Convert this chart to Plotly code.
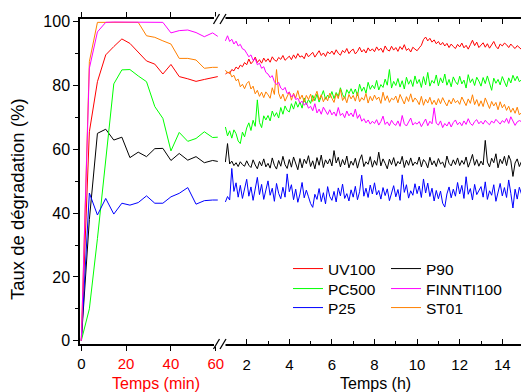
import plotly.graph_objects as go

# ---------------- data ----------------
t_min = [0, 3.6, 7.2, 10.9, 14.5, 18.1, 21.7, 25.4, 29.1, 32.8, 36.4, 40.0, 43.7,
         47.5, 51.2, 54.9, 58.6, 60.9]

uv100_min = [0, 65.5, 81.2, 89.6, 92.2, 94.6, 93.2, 90.6, 87.7, 86.7, 83.6, 86.6,
             82.8, 82.1, 81.3, 81.9, 82.4, 82.8]
p90_min = [0, 38.0, 65.0, 66.3, 62.9, 63.8, 57.4, 59.1, 57.7, 60.2, 60.3, 56.5,
           58.7, 56.6, 57.7, 55.8, 56.5, 56.2]
pc500_min = [0, 10.0, 32.0, 56.0, 80.5, 84.9, 85.0, 83.0, 81.2, 73.4, 69.7, 59.5,
             65.3, 62.5, 63.4, 65.5, 63.7, 63.8]
finnti100_min = [0, 85.4, 96.8, 99.8, 99.9, 99.9, 99.8, 99.9, 99.9, 99.9, 99.8, 96.5,
                 97.2, 97.4, 96.6, 95.3, 96.5, 95.4]
p25_min = [0, 46.3, 39.4, 44.6, 39.7, 43.1, 42.5, 43.3, 45.4, 43.1, 43.1, 45.1,
           46.2, 48.0, 42.8, 43.9, 44.1, 44.1]
st01_min = [0, 87.5, 99.8, 99.8, 99.7, 99.6, 99.8, 99.8, 95.6, 95.1, 94.0, 93.0,
            88.5, 88.5, 88.0, 85.4, 85.7, 85.7]

t_h = [1.0, 1.1, 1.2, 1.3, 1.4, 1.5, 1.6, 1.7, 1.8, 1.9,
       2.0, 2.1, 2.2, 2.3, 2.4, 2.5, 2.6, 2.7, 2.8, 2.9,
       3.0, 3.1, 3.2, 3.3, 3.4, 3.5, 3.6, 3.7, 3.8, 3.9,
       4.0, 4.1, 4.2, 4.3, 4.4, 4.5, 4.6, 4.7, 4.8, 4.9,
       5.0, 5.1, 5.2, 5.3, 5.4, 5.5, 5.6, 5.7, 5.8, 5.9,
       6.0, 6.1, 6.2, 6.3, 6.4, 6.5, 6.6, 6.7, 6.8, 6.9,
       7.0, 7.1, 7.2, 7.3, 7.4, 7.5, 7.6, 7.7, 7.8, 7.9,
       8.0, 8.1, 8.2, 8.3, 8.4, 8.5, 8.6, 8.7, 8.8, 8.9,
       9.0, 9.1, 9.2, 9.3, 9.4, 9.5, 9.6, 9.7, 9.8, 9.9,
       10.0, 10.1, 10.2, 10.3, 10.4, 10.5, 10.6, 10.7, 10.8, 10.9,
       11.0, 11.1, 11.2, 11.3, 11.4, 11.5, 11.6, 11.7, 11.8, 11.9,
       12.0, 12.1, 12.2, 12.3, 12.4, 12.5, 12.6, 12.7, 12.8, 12.9,
       13.0, 13.1, 13.2, 13.3, 13.4, 13.5, 13.6, 13.7, 13.8, 13.9,
       14.0, 14.1, 14.2, 14.3, 14.4, 14.5, 14.6, 14.7, 14.8, 14.9]

uv100_h = [83.5, 84.2, 83.8, 85.0, 84.6, 85.8, 85.2, 86.4, 85.9, 87.2,
           86.5, 88.3, 86.8, 87.6, 88.9, 87.2, 88.1, 87.0, 88.6, 87.5,
           88.4, 87.3, 89.0, 88.0, 87.6, 88.8, 88.2, 89.4, 87.9, 88.7,
           89.2, 88.1, 89.6, 88.5, 90.0, 88.9, 89.3, 88.4, 90.2, 89.0,
           89.6, 90.4, 88.9, 89.8, 90.9, 89.4, 90.2, 89.1, 90.6, 89.9,
           90.8, 89.7, 91.2, 90.1, 89.5, 91.0, 90.3, 91.6, 90.0, 90.9,
           91.4, 89.9, 90.7, 92.0, 90.5, 91.3, 90.2, 91.8, 90.8, 91.5,
           90.6, 92.1, 91.0, 91.7, 90.4, 92.4, 91.2, 90.8, 92.3, 91.1,
           91.9, 90.7, 92.2, 91.3, 92.8, 91.0, 91.6, 90.5, 92.0, 91.4,
           90.9, 91.8, 92.6, 94.4, 95.2, 94.0, 94.8, 93.6, 94.3, 93.1,
           93.8, 92.7, 93.5, 92.4, 93.2, 91.9, 93.0, 92.2, 91.6, 92.9,
           92.1, 93.3, 91.8, 92.6, 91.4, 92.8, 94.2, 92.5, 93.6, 91.9,
           92.7, 93.4, 92.0, 93.1, 91.7, 92.9, 93.8, 92.3, 91.5, 93.0,
           92.4, 93.3, 92.8, 91.9, 93.0, 92.2, 91.6, 92.5, 91.8, 91.3]

p90_h = [56.0, 61.8, 55.4, 56.3, 54.9, 55.8, 54.6, 56.1, 55.2, 54.7,
         56.4, 55.0, 54.3, 56.7, 55.1, 53.9, 56.2, 54.8, 57.0, 54.5,
         55.6, 54.1, 57.3, 55.0, 53.8, 56.5, 54.7, 57.8, 55.2, 54.0,
         56.8, 54.4, 57.6, 55.3, 53.6, 57.1, 54.2, 56.9, 55.5, 58.0,
         54.6, 56.4, 53.9, 57.4, 55.0, 58.2, 54.3, 56.7, 55.4, 57.0,
         54.8, 59.6, 55.7, 57.5, 54.5, 56.8, 55.1, 57.9, 54.2, 56.3,
         55.0, 57.2, 54.1, 56.6, 58.3, 54.6, 56.1, 55.3, 57.7, 54.4,
         56.5, 55.0, 59.1, 54.8, 57.0, 55.6, 53.9, 56.9, 55.2, 57.4,
         54.7, 56.2, 55.4, 57.8, 54.3, 56.6, 55.0, 57.3, 54.9, 56.0,
         55.3, 57.6, 54.5, 56.8, 55.9, 54.2, 57.5, 55.1, 56.4, 54.6,
         57.1, 55.4, 56.0, 54.3, 57.9, 55.6, 54.8, 56.7, 55.2, 57.3,
         54.9, 56.5, 55.3, 57.6, 54.4, 56.2, 58.4, 55.0, 56.8, 54.7,
         56.3, 55.1, 62.8, 56.0, 54.5, 57.2, 55.8, 58.6, 54.2, 56.9,
         55.5, 57.8, 54.9, 58.1, 56.4, 51.5, 55.7, 57.0, 54.6, 56.2]

pc500_h = [67.0, 64.2, 65.8, 63.5, 66.1, 64.9, 62.6, 61.8, 65.4, 63.9,
           66.7, 68.3, 65.9, 69.1, 67.2, 75.5, 68.4, 66.8, 70.5, 69.2,
           70.6, 68.9, 72.0, 70.3, 71.5, 69.8, 73.1, 71.0, 73.6, 72.2,
           71.7, 74.3, 72.6, 75.0, 73.2, 74.8, 72.9, 76.1, 74.0, 75.6,
           74.4, 76.9, 75.2, 77.3, 74.8, 76.5, 78.4, 75.7, 77.0, 76.2,
           78.1, 75.9, 77.8, 76.6, 79.3, 77.2, 76.0, 78.7, 77.5, 79.0,
           77.3, 78.9, 76.8, 80.4, 78.2, 79.5, 77.6, 81.0, 78.8, 80.1,
           79.0, 81.6, 78.6, 80.3, 79.4, 82.0, 80.1, 85.0, 79.2, 81.3,
           80.0, 82.2, 79.5, 81.5, 78.9, 82.6, 80.4, 81.8, 79.7, 83.0,
           80.6, 81.9, 79.4, 82.8, 80.2, 84.1, 79.8, 81.6, 80.7, 83.3,
           79.9, 82.4, 80.8, 83.6, 80.1, 81.9, 79.6, 82.7, 81.2, 80.3,
           82.9, 80.5, 81.7, 79.2, 83.4, 80.9, 82.1, 80.0, 82.6, 81.4,
           79.8, 82.5, 80.6, 83.0, 81.1, 78.5, 82.3, 80.7, 81.9, 80.2,
           82.8, 81.0, 79.6, 82.4, 80.8, 83.2, 81.5, 82.9, 81.2, 81.8]

finnti100_h = [94.0, 95.6, 93.8, 94.5, 93.0, 93.9, 92.4, 92.9, 91.5, 91.2,
               90.1, 89.0, 89.6, 87.9, 88.4, 86.5, 87.0, 85.4, 85.9, 84.1,
               83.6, 82.5, 83.1, 81.2, 80.3, 81.0, 79.2, 78.6, 79.4, 77.5,
               77.9, 76.4, 77.2, 75.6, 76.0, 74.5, 75.1, 73.8, 74.6, 72.9,
               73.5, 72.1, 74.3, 71.4, 72.6, 71.0, 73.2, 71.8, 70.9, 72.4,
               70.8, 71.7, 70.4, 73.1, 70.6, 71.3, 69.9, 72.0, 70.5, 71.4,
               70.2, 72.6, 69.7, 70.9, 68.8, 69.6, 68.3, 69.2, 67.9, 68.8,
               68.1, 69.3, 67.6, 68.7, 70.4, 67.8, 68.6, 67.4, 69.1, 68.0,
               67.5, 68.9, 67.2, 70.6, 68.0, 67.3, 68.5, 69.8, 67.6, 68.4,
               67.9, 68.7, 67.1, 68.3, 69.5, 67.4, 68.8, 68.0, 73.0, 68.2,
               67.6, 68.9, 66.8, 68.1, 67.3, 68.6, 67.0, 68.4, 69.2, 67.7,
               68.5, 67.4, 68.9, 67.8, 69.6, 68.1, 67.5, 68.7, 69.3, 68.0,
               68.8, 67.9, 69.1, 68.3, 67.7, 68.9, 68.2, 69.4, 68.6, 67.9,
               69.0, 68.4, 69.7, 68.1, 70.2, 68.7, 67.5, 68.6, 69.0, 68.7]

p25_h = [43.5, 45.2, 44.1, 54.0, 46.8, 49.5, 45.0, 48.7, 44.6, 47.9,
         50.6, 45.3, 48.2, 44.0, 47.4, 51.2, 45.8, 49.0, 44.3, 46.9,
         50.1, 45.6, 47.8, 43.7, 49.3, 46.2, 44.5, 48.1, 45.0, 52.3,
         46.7, 48.9, 44.2, 47.5, 43.4, 46.0, 49.6, 44.8, 47.2, 45.1,
         43.0, 41.8, 45.9, 44.3, 47.7, 43.6, 46.4, 42.9, 48.3, 45.2,
         44.0, 46.8, 43.5, 47.9, 45.4, 49.1, 44.6, 46.1, 43.8, 47.3,
         45.0, 48.4, 44.2, 46.7, 51.9, 45.3, 47.8, 44.9, 48.8, 46.0,
         49.5, 45.7, 47.1, 44.4, 48.0, 45.5, 47.6, 43.9, 46.3, 48.6,
         45.1, 47.4, 44.0, 52.0, 46.5, 48.9, 44.7, 47.0, 45.6, 49.2,
         46.1, 48.5, 44.9, 50.7, 46.3, 49.4, 45.2, 47.8, 43.8, 47.1,
         44.5, 46.9, 43.1, 41.9, 46.0, 48.2, 44.8, 47.5, 45.3, 49.6,
         46.0, 48.7, 44.6, 51.4, 45.9, 47.7, 44.1, 49.0, 45.8, 47.2,
         48.3, 45.0, 49.8, 44.3, 47.0, 45.6, 48.9, 43.7, 46.5, 49.3,
         45.4, 48.0, 44.9, 50.4, 46.2, 41.6, 47.5, 44.4, 48.1, 46.0]

st01_h = [84.8, 83.9, 84.3, 82.7, 83.2, 81.5, 82.0, 79.6, 80.4, 79.0,
          80.6, 81.3, 78.9, 79.8, 77.4, 78.5, 76.6, 77.9, 76.2, 78.0,
          77.1, 76.0, 79.3, 77.2, 85.0, 77.6, 75.8, 77.3, 75.1, 76.4,
          78.0, 75.4, 77.6, 76.1, 78.4, 75.7, 77.0, 74.8, 76.9, 75.6,
          77.3, 75.0, 76.8, 78.2, 75.5, 77.1, 74.9, 76.4, 75.2, 77.6,
          76.0, 74.7, 77.4, 75.9, 78.8, 75.3, 76.5, 74.6, 77.2, 75.8,
          76.9, 75.1, 77.8, 74.9, 76.2, 75.4, 77.5, 74.5, 76.6, 75.2,
          77.0, 75.6, 76.4, 74.4, 77.9, 75.3, 76.8, 74.7, 76.0, 75.5,
          76.7, 74.6, 77.2, 75.8, 74.2, 76.5, 75.0, 77.4, 74.8, 76.1,
          75.3, 74.0, 76.6, 73.8, 75.7, 74.5, 76.3, 74.1, 75.4, 73.9,
          75.9, 74.3, 76.2, 74.8, 73.6, 75.5, 74.2, 76.0, 74.6, 75.3,
          74.1, 76.4, 74.9, 73.7, 75.8, 74.4, 77.1, 74.0, 75.6, 73.5,
          75.2, 73.4, 76.1, 74.2, 72.8, 75.0, 73.6, 74.7, 72.4, 74.9,
          73.0, 74.1, 72.2, 73.5, 71.6, 72.9, 71.3, 73.2, 70.8, 71.5]

y_ticks = [0, 20, 40, 60, 80, 100]
x_min_ticks = [0, 20, 40, 60]
x_min_ticklabels = ["0", "<span style='color:#ff0000'>20</span>",
                    "<span style='color:#ff0000'>40</span>",
                    "<span style='color:#ff0000'>60</span>"]

# name, minute data, hour data, colour, legend id (one legend per entry)
series = [
    ("UV100", uv100_min, uv100_h, "#ff0000", "legend"),
    ("P90", p90_min, p90_h, "#000000", "legend2"),
    ("PC500", pc500_min, pc500_h, "#00ff00", "legend3"),
    ("P25", p25_min, p25_h, "#0000ff", "legend5"),
    ("ST01", st01_min, st01_h, "#ff8000", "legend6"),
    ("FINNTI100", finnti100_min, finnti100_h, "#ff00ff", "legend4"),
]

# ---------------- layout helpers ----------------
W, H = 521, 392
L, R, T, B = 80, 0, 19, 48
PW, PH = W - L - R, H - T - B


def px(x):
    return (x - L) / PW


def py(y):
    return (H - B - y) / PH


FONT = "Liberation Sans, Arial, sans-serif"

fig = go.Figure()
for name, ym, yh, col, lg in series:
    fig.add_trace(go.Scatter(x=t_min, y=ym, mode="lines", name=name,
                             line=dict(color=col, width=1), legend=lg,
                             xaxis="x", yaxis="y"))
    fig.add_trace(go.Scatter(x=t_h, y=yh, mode="lines", name=name,
                             line=dict(color=col, width=1), legend=lg,
                             showlegend=False, xaxis="x2", yaxis="y"))

axis_common = dict(showgrid=False, zeroline=False, showline=True,
                   linecolor="black", linewidth=1.5, tickcolor="black",
                   tickwidth=1.2, automargin=False)

legend_common = dict(orientation="v", xanchor="left", yanchor="middle",
                     bgcolor="rgba(0,0,0,0)", itemwidth=30,
                     font=dict(family=FONT, size=15.5, color="black"),
                     tracegroupgap=0, itemclick=False)

col1, col2 = 288, 386
row1, row2, row3 = 269, 289, 308

fig.update_layout(
    width=W, height=H,
    margin=dict(l=L, r=R, t=T, b=B, pad=0, autoexpand=False),
    paper_bgcolor="white", plot_bgcolor="white",
    font=dict(family=FONT, color="black"),
    showlegend=True,
    xaxis=dict(domain=[0, px(218)], range=[-0.58, 61.0], anchor="y",
               tickmode="array", tickvals=x_min_ticks,
               ticktext=x_min_ticklabels, ticks="outside", ticklen=5,
               mirror="ticks", tickfont=dict(family=FONT, size=15,
                                             color="black"),
               **axis_common),
    xaxis2=dict(domain=[px(225), 1], range=[0.981, 14.878], anchor="y",
                tick0=0, dtick=2, ticks="inside", ticklen=5,
                ticklabelstandoff=6,
                minor=dict(dtick=1, ticks="inside", ticklen=3,
                           tickcolor="black", tickwidth=1.2),
                mirror="ticks", tickfont=dict(family=FONT, size=15,
                                              color="black"),
                **axis_common),
    yaxis=dict(range=[-1.03, 100.85], anchor="x", tickmode="array",
               tickvals=y_ticks, ticks="outside", ticklen=5,
               minor=dict(dtick=10, ticks="outside", ticklen=3,
                          tickcolor="black", tickwidth=1.2),
               tickfont=dict(family=FONT, size=16, color="black"),
               **axis_common),
    legend=dict(x=px(col1), y=py(row1), **legend_common),
    legend2=dict(x=px(col2), y=py(row1), **legend_common),
    legend3=dict(x=px(col1), y=py(row2), **legend_common),
    legend4=dict(x=px(col2), y=py(row2), **legend_common),
    legend5=dict(x=px(col1), y=py(row3), **legend_common),
    legend6=dict(x=px(col2), y=py(row3), **legend_common),
)

# axis titles
fig.add_annotation(text="Temps (min)", xref="paper", yref="paper",
                   x=px(156), y=py(383), showarrow=False,
                   xanchor="center", yanchor="middle",
                   font=dict(family=FONT, size=16, color="#ff0000"))
fig.add_annotation(text="Temps (h)", xref="paper", yref="paper",
                   x=px(375.5), y=py(383), showarrow=False,
                   xanchor="center", yanchor="middle",
                   font=dict(family=FONT, size=16, color="black"))
fig.add_annotation(text="Taux de dégradation (%)", xref="paper",
                   yref="paper", x=px(17), y=py(199), showarrow=False,
                   textangle=-90, xanchor="center", yanchor="middle",
                   font=dict(family=FONT, size=18.5, color="black"))

# axis break: hide axis line in the gap, then draw the "//" marks
for yline in (T, H - B):
    fig.add_shape(type="rect", xref="paper", yref="paper",
                  x0=px(214), x1=px(225.5), y0=py(yline + 2.5),
                  y1=py(yline - 2.5), fillcolor="white",
                  line=dict(width=0), layer="above")
    for dx in (0, 6.5):
        fig.add_shape(type="line", xref="paper", yref="paper",
                      x0=px(213.5 + dx), y0=py(yline + 5),
                      x1=px(219.5 + dx), y1=py(yline - 5),
                      line=dict(color="black", width=1.3), layer="above")

fig.write_html("out.html", config={"displayModeBar": False},
               post_script="document.body.style.margin='0';"
                           "document.body.style.overflow='hidden';")
